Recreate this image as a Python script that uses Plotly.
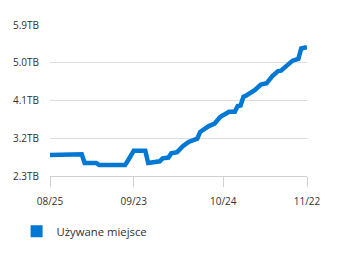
import plotly.graph_objects as go
import pandas as pd

start = pd.Timestamp("2023-08-25")
day_offsets = [0, 5, 11, 12, 16, 17, 26, 27, 29, 33, 34, 38, 39, 41, 42, 44, 46, 48, 49, 51,
               52, 54, 55, 57, 59, 61, 62, 64, 65, 66, 67, 68, 71, 73, 75, 77, 79, 80, 83, 84,
               86, 87, 89]
used_tb = [2.80, 2.80, 2.82, 2.61, 2.61, 2.56, 2.56, 2.67, 2.90, 2.90, 2.61, 2.65, 2.72, 2.74,
           2.84, 2.87, 3.01, 3.11, 3.14, 3.19, 3.35, 3.45, 3.49, 3.55, 3.71, 3.79, 3.83, 3.83,
           3.97, 3.98, 4.19, 4.22, 4.35, 4.48, 4.51, 4.68, 4.80, 4.81, 5.01, 5.05, 5.09, 5.34,
           5.37]
dates = [start + pd.Timedelta(days=d) for d in day_offsets]

y_ticks = [2.3, 3.2, 4.1, 5.0, 5.9]
y_tick_labels = ["2.3TB", "3.2TB", "4.1TB", "5.0TB", "5.9TB"]
x_ticks = ["2023-08-25", "2023-09-23", "2023-10-24", "2023-11-22"]
x_tick_labels = ["08/25", "09/23", "10/24", "11/22"]
series_name = "Używane miejsce"

blue = "#0078d4"
font_family = "Segoe UI, Open Sans, sans-serif"

fig = go.Figure()
fig.add_trace(go.Scatter(x=dates, y=used_tb, mode="lines",
                         line=dict(color=blue, width=4.5), showlegend=False,
                         hoverinfo="skip"))
fig.add_trace(go.Scatter(x=[None], y=[None], mode="markers", name=series_name,
                         marker=dict(symbol="square", size=12, color=blue)))

fig.update_layout(
    width=339, height=258,
    margin=dict(l=50, r=32, t=25, b=78),
    paper_bgcolor="white", plot_bgcolor="white",
    font=dict(family=font_family, size=10, color="#323130"),
    showlegend=True,
    legend=dict(orientation="h", x=-0.13, xanchor="left", y=-0.27, yanchor="top",
                font=dict(size=11.3, color="#323130"), itemsizing="trace"),
    xaxis=dict(range=["2023-08-25", "2023-11-22"], tickvals=x_ticks, ticktext=x_tick_labels,
               showgrid=False, showline=True, linecolor="#d2d0ce", linewidth=1,
               ticks="outside", ticklen=10, tickcolor="#d2d0ce", zeroline=False,
               tickfont=dict(size=10), ticklabelstandoff=6),
    yaxis=dict(range=[2.3, 5.9], tickvals=y_ticks, ticktext=y_tick_labels,
               showgrid=True, gridcolor="#dcdcdc", gridwidth=1, zeroline=False,
               showline=False, ticks="", tickfont=dict(size=10), ticklabelstandoff=10),
)

fig.write_html("out.html")
